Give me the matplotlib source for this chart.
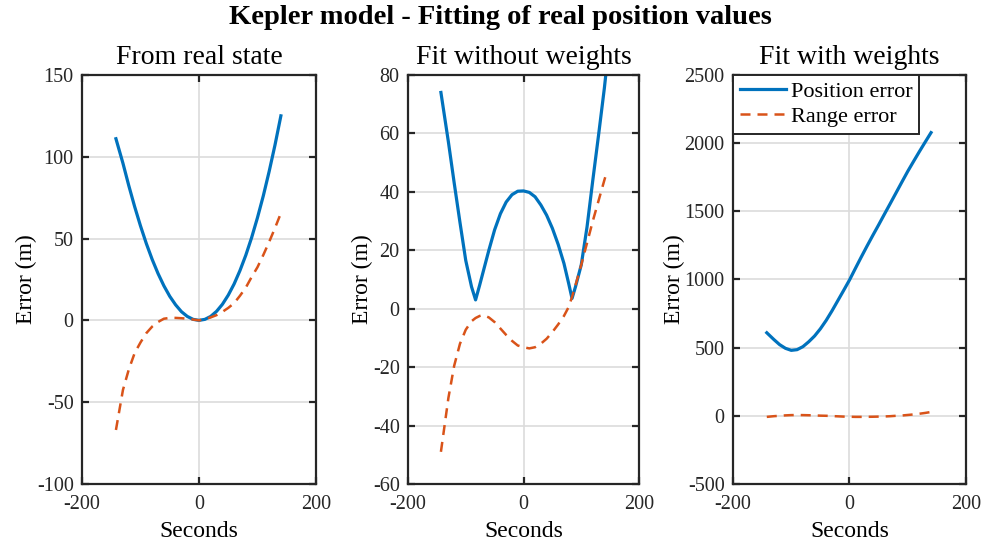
import matplotlib
matplotlib.use("Agg")
import matplotlib.pyplot as plt
import matplotlib.ticker as mticker

# ---------------------------------------------------------------------------
# Styling — MATLAB-like look
# ---------------------------------------------------------------------------
plt.rcParams.update({
    "font.family":        ["Liberation Serif", "DejaVu Serif"],
    "axes.unicode_minus": False,
    "font.size":          14,
    "axes.linewidth":     1.6,
    "axes.edgecolor":     "#262626",
    "xtick.direction":    "in",
    "ytick.direction":    "in",
    "xtick.top":          True,
    "ytick.right":        True,
    "xtick.major.size":   5,
    "ytick.major.size":   5,
    "xtick.major.width":  1.6,
    "ytick.major.width":  1.6,
    "xtick.color":        "#262626",
    "ytick.color":        "#262626",
})

BLUE   = "#0072BD"
ORANGE = "#D95319"

# ---------------------------------------------------------------------------
# Data (seconds, metres)
# ---------------------------------------------------------------------------
t_real = [-142, -130, -120, -110, -100, -90, -80, -70, -60, -50, -40, -30, -20,
          -10, 0, 10, 20, 30, 40, 50, 60, 70, 80, 90, 100, 110, 120, 130, 140]
pos_real = [111, 96, 82.3, 69.5, 57.7, 46.9, 37.2, 28.6, 21.1, 14.7, 9.5, 5.3,
            2.4, 0.6, 0, 0.6, 2.4, 5.5, 9.8, 15.4, 22.2, 30.4, 39.8, 50.6, 62.8,
            76.2, 91.1, 107.3, 125]
rng_real = [-67, -42.5, -30, -20, -13.5, -7.8, -3.8, -1, 1, 1.5, 1.5, 1.3, 1,
            0.5, 0, 0.8, 1.8, 3.2, 5.2, 7.6, 10.5, 15, 20, 26.5, 32.5, 40, 48,
            56.5, 65.5]

t_nowt = [-143, -130, -120, -110, -100, -90, -83, -76, -70, -60, -50, -40, -30,
          -20, -10, 0, 10, 20, 30, 40, 50, 60, 70, 78, 84, 90, 100, 110, 120,
          130, 140, 143]
pos_nowt = [74, 57, 43, 29.5, 16.5, 7.5, 3, 8, 12.5, 20, 27, 32.5, 36.5, 39,
            40.2, 40.3, 39.8, 38.3, 35.5, 32, 27.5, 22, 15.5, 8.8, 3.5, 7.5, 15,
            28, 44, 59.5, 75.5, 81]
rng_nowt = [-49, -30.5, -19.5, -12, -7.2, -4.3, -3.2, -2.5, -2.2, -3, -4.6,
            -6.8, -9, -11, -12.6, -13.2, -13.6, -13.2, -12, -10.3, -8, -5.4,
            -2.5, 0.5, 4, 8, 15, 22.5, 30, 37, 44, 46]

t_wt = t_real
pos_wt = [609, 560, 522, 495, 480, 485, 507, 543, 585, 638, 700, 770, 845, 920,
          996, 1080, 1163, 1244, 1323, 1400, 1479, 1557, 1636, 1715, 1793,
          1866, 1938, 2008, 2077]
rng_wt = [-8, -3, 0, 3, 5, 5.5, 5, 4, 3, 1, 0, -2, -4, -6, -7, -8, -8, -7.5,
          -7, -6, -5, -3, 0, 2, 6, 10, 15, 21, 28]

PANELS = [
    ("From real state",     t_real, pos_real, rng_real, (-100, 150), 50),
    ("Fit without weights", t_nowt, pos_nowt, rng_nowt, (-60, 80),   20),
    ("Fit with weights",    t_wt,   pos_wt,   rng_wt,   (-500, 2500), 500),
]

# axes rectangles in figure fraction
LEFTS  = [0.0836, 0.4159, 0.7472]
WIDTHS = [0.2385, 0.2355, 0.2375]
BOTTOM = 0.112
HEIGHT = 0.7505


def draw_panel(ax, title, t, pos, rng, ylim, ystep):
    ax.plot(t, pos, color=BLUE, lw=2.3, label="Position error")
    ax.plot(t, rng, color=ORANGE, lw=1.8, dashes=(4, 2.8), label="Range error")
    ax.set_xlim(-200, 200)
    ax.set_ylim(*ylim)
    ax.xaxis.set_major_locator(mticker.MultipleLocator(200))
    ax.yaxis.set_major_locator(mticker.MultipleLocator(ystep))
    ax.grid(True, color="#dcdcdc", lw=1.2)
    ax.set_axisbelow(True)
    ax.set_title(title, fontsize=20, pad=8)
    ax.set_xlabel("Seconds", fontsize=17, labelpad=5)
    ax.set_ylabel("Error (m)", fontsize=17, labelpad=0)
    ax.tick_params(axis="x", labelsize=14.5, pad=8)
    ax.tick_params(axis="y", labelsize=14.5, pad=6)


def main():
    fig = plt.figure(figsize=(9.81, 5.45), dpi=100)
    fig.text(0.51, 0.967, "Kepler model - Fitting of real position values",
             fontsize=20.5, fontweight="bold", ha="center", va="center")

    axes = []
    for left, width, panel in zip(LEFTS, WIDTHS, PANELS):
        ax = fig.add_axes([left, BOTTOM, width, HEIGHT])
        draw_panel(ax, *panel)
        axes.append(ax)

    leg = axes[2].legend(loc="upper left", fontsize=16, borderaxespad=0,
                         handlelength=2.1, handletextpad=0.2,
                         borderpad=0.3, labelspacing=0.2, fancybox=False,
                         framealpha=1, edgecolor="#262626")
    leg.get_frame().set_linewidth(1.4)

    fig.savefig("out.png", dpi=100)


if __name__ == "__main__":
    main()
